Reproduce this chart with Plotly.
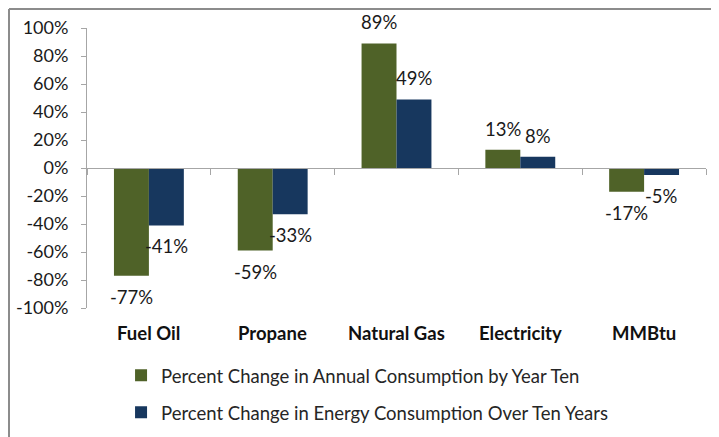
import plotly.graph_objects as go

# data
categories = ['Fuel Oil', 'Propane', 'Natural Gas', 'Electricity', 'MMBtu']
annual_change = [-77, -59, 89, 13, -17]
energy_change = [-41, -33, 49, 8, -5]
series_names = ['Percent Change in Annual Consumption by Year Ten',
                'Percent Change in Energy Consumption Over Ten Years']
y_ticks = [-100, -80, -60, -40, -20, 0, 20, 40, 60, 80, 100]
y_tick_labels = [f'{v}%' for v in y_ticks]

green = '#4F6228'
navy = '#17375E'
axis_grey = '#A6A6A6'
font_family = 'Lato, Liberation Sans, sans-serif'

fig = go.Figure()
fig.add_trace(go.Bar(x=categories, y=annual_change, name=series_names[0],
                     marker=dict(color=green, line=dict(width=0)),
                     legendgroup='a'))
fig.add_trace(go.Bar(x=categories, y=energy_change, name=series_names[1],
                     marker=dict(color=navy, line=dict(width=0)),
                     legendgroup='b'))

# data labels sit outside the bar end, centred on each bar
annotations = []
for vals, shift in [(annual_change, -17.5), (energy_change, 17.5)]:
    for cat, v in zip(categories, vals):
        annotations.append(dict(x=cat, y=v, xref='x', yref='y',
                                text=f'{v}%', showarrow=False,
                                xshift=shift, yshift=21 if v >= 0 else -21,
                                font=dict(size=18.5, color='#1a1a1a', family=font_family)))

# category labels along the bottom of the plot
for cat in categories:
    annotations.append(dict(x=cat, y=-0.089, xref='x', yref='paper',
                            text=f'<b>{cat}</b>', showarrow=False,
                            yanchor='middle',
                            font=dict(size=18.5, color='#111111', family=font_family)))

# the page body has an 8px margin, so the figure is 8px smaller each way
fig.update_layout(
    width=711, height=429,
    margin=dict(l=79, r=13, t=20, b=129, autoexpand=False),
    paper_bgcolor='white', plot_bgcolor='white',
    barmode='group', bargap=0.4355, bargroupgap=0,
    font=dict(family=font_family, size=18, color='#1a1a1a'),
    xaxis=dict(type='category', range=[-0.5, 4.5], anchor='free', position=0.5,
               showline=True, linecolor=axis_grey, linewidth=1,
               ticks='outside', ticklen=6, tickcolor=axis_grey, tickson='boundaries',
               showticklabels=False, showgrid=False, zeroline=False, automargin=False),
    yaxis=dict(range=[-100, 100], tickvals=y_ticks, ticktext=y_tick_labels,
               showline=True, linecolor=axis_grey, linewidth=1,
               ticks='outside', ticklen=5, tickcolor=axis_grey,
               showgrid=False, zeroline=False, ticklabelstandoff=9, automargin=False,
               tickfont=dict(size=18, color='#1a1a1a')),
    legend=dict(orientation='v', x=0.159, xref='container', xanchor='left',
                y=0.187, yref='container', yanchor='top',
                tracegroupgap=10, font=dict(size=18.5, color='#262626'),
                bgcolor='rgba(0,0,0,0)'),
    annotations=annotations,
    shapes=[
        # frame edges visible at the top and left of the original
        dict(type='line', xref='paper', yref='paper', x0=-0.126, x1=1.05,
             y0=1.0679, y1=1.0679, line=dict(color='#8C8C8C', width=2)),
        dict(type='line', xref='paper', yref='paper', x0=-0.126, x1=-0.126,
             y0=1.0679, y1=-0.5, line=dict(color='#8C8C8C', width=2)),
    ],
)

fig.write_html('out.html')
